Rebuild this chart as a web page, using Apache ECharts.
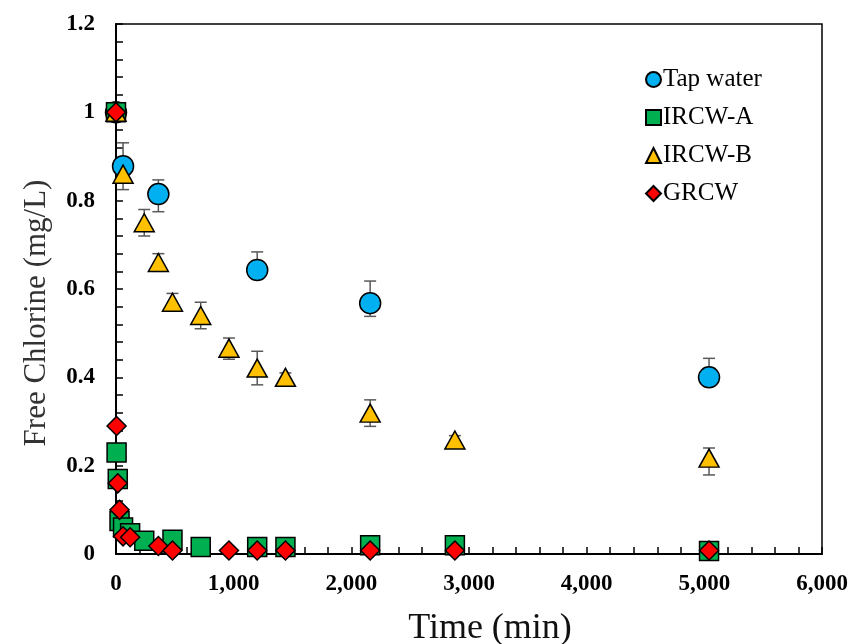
<!DOCTYPE html>
<html>
<head>
<meta charset="utf-8">
<script src="https://cdn.jsdelivr.net/npm/echarts@6/dist/echarts.min.js"></script>
<style>
  html, body { margin: 0; padding: 0; background: #fff; }
  #chart { width: 849px; height: 644px; }
</style>
</head>
<body>
<div id="chart"></div>
<script>
// time (min) and free chlorine (mg/L)
const tapTimes = [0, 60, 360, 1200, 2160, 5040];
const tapValues = [1.0, 0.878, 0.815, 0.643, 0.568, 0.40];
const tapErrUp = [0, 0.053, 0.032, 0.041, 0.05, 0.043];
const tapErrDown = [0, 0.053, 0.04, 0.02, 0.03, 0.02];

const aTimes = [0, 5, 15, 30, 60, 120, 240, 480, 720, 1200, 1440, 2160, 2880, 5040];
const aValues = [1.0, 0.23, 0.17, 0.075, 0.06, 0.047, 0.03, 0.032, 0.016, 0.016, 0.016, 0.02, 0.02, 0.007];

const bTimes = [0, 60, 240, 360, 480, 720, 960, 1200, 1440, 2160, 2880, 5040];
const bValues = [1.0, 0.86, 0.75, 0.66, 0.57, 0.54, 0.466, 0.421, 0.40, 0.319, 0.258, 0.217];
const bErrUp = [0, 0.02, 0.03, 0.02, 0.02, 0.03, 0.023, 0.038, 0.01, 0.03, 0.01, 0.023];
const bErrDown = [0, 0.02, 0.03, 0.02, 0.02, 0.03, 0.025, 0.038, 0.01, 0.03, 0.01, 0.038];

const gTimes = [0, 5, 15, 30, 60, 120, 360, 480, 960, 1200, 1440, 2160, 2880, 5040];
const gValues = [1.0, 0.29, 0.16, 0.10, 0.04, 0.038, 0.018, 0.008, 0.008, 0.008, 0.008, 0.008, 0.008, 0.008];

const serif = '"Liberation Serif", "Times New Roman", serif';

function pairs(times, values) {
  return times.map((t, i) => [t, values[i]]);
}
function errRows(times, values, up, down) {
  return times.map((t, i) => [t, values[i] - down[i], values[i] + up[i]]);
}

function renderErr(params, api) {
  const x = api.value(0);
  const lo = api.coord([x, api.value(1)]);
  const hi = api.coord([x, api.value(2)]);
  const cap = 6;
  const style = { stroke: '#595959', lineWidth: 1.5 };
  return {
    type: 'group',
    children: [
      { type: 'line', shape: { x1: lo[0], y1: lo[1], x2: hi[0], y2: hi[1] }, style },
      { type: 'line', shape: { x1: hi[0] - cap, y1: hi[1], x2: hi[0] + cap, y2: hi[1] }, style },
      { type: 'line', shape: { x1: lo[0] - cap, y1: lo[1], x2: lo[0] + cap, y2: lo[1] }, style }
    ]
  };
}

const chart = echarts.init(document.getElementById('chart'));

const marker = (name, symbol, size, color, z) => ({
  name: name,
  type: 'scatter',
  symbol: symbol,
  symbolSize: size,
  z: z,
  itemStyle: { color: color, borderColor: '#000', borderWidth: 1.5, opacity: 1 },
  emphasis: { disabled: true }
});

chart.setOption({
  animation: false,
  grid: {
    left: 116, right: 27, top: 24, bottom: 90,
    outerBoundsMode: 'none',
    show: true, borderColor: '#000', borderWidth: 1.5
  },
  legend: {
    orient: 'vertical',
    left: 640,
    top: 62,
    itemGap: 13,
    itemWidth: 15,
    itemHeight: 15,
    data: ['Tap water', 'IRCW-A', 'IRCW-B', 'GRCW'],
    textStyle: { fontFamily: serif, fontSize: 25, color: '#000', padding: [0, 0, 0, -3] }
  },
  xAxis: {
    type: 'value',
    min: 0,
    max: 6000,
    interval: 1000,
    name: 'Time (min)',
    nameLocation: 'middle',
    nameGap: 57,
    nameTextStyle: { fontFamily: serif, fontSize: 36, color: '#111', padding: [0, 0, 0, 42] },
    axisLine: { lineStyle: { color: '#000', width: 2 } },
    axisTick: { inside: true, length: 7, lineStyle: { color: '#000', width: 1.5 } },
    minorTick: { show: true, splitNumber: 5, length: 7, lineStyle: { color: '#000', width: 1.5 } },
    splitLine: { show: false },
    axisLabel: {
      margin: 19,
      fontFamily: serif,
      fontWeight: 'bold',
      fontSize: 23,
      color: '#000',
      formatter: v => v.toLocaleString('en-US')
    }
  },
  yAxis: {
    type: 'value',
    min: 0,
    max: 1.2,
    interval: 0.2,
    name: 'Free Chlorine (mg/L)',
    nameLocation: 'middle',
    nameGap: 64,
    nameTextStyle: { fontFamily: serif, fontSize: 31, color: '#333', padding: [0, 48, 0, 0] },
    axisLine: { show: true, lineStyle: { color: '#000', width: 2 } },
    axisTick: { inside: true, length: 7, lineStyle: { color: '#000', width: 1.5 } },
    minorTick: { show: true, splitNumber: 5, length: 7, lineStyle: { color: '#000', width: 1.5 } },
    splitLine: { show: false },
    axisLabel: {
      margin: 21,
      fontFamily: serif,
      fontWeight: 'bold',
      fontSize: 23,
      color: '#000',
      formatter: v => String(parseFloat(v.toFixed(1)))
    }
  },
  series: [
    {
      type: 'custom',
      renderItem: renderErr,
      data: errRows(tapTimes, tapValues, tapErrUp, tapErrDown),
      z: 1,
      silent: true
    },
    {
      type: 'custom',
      renderItem: renderErr,
      data: errRows(bTimes, bValues, bErrUp, bErrDown),
      z: 1,
      silent: true
    },
    Object.assign(marker('Tap water', 'circle', 21, '#00B0F0', 2), { data: pairs(tapTimes, tapValues) }),
    Object.assign(marker('IRCW-A', 'rect', 19, '#00B050', 3), { data: pairs(aTimes, aValues) }),
    Object.assign(marker('IRCW-B', 'triangle', [20, 18], '#FFC000', 4), { data: pairs(bTimes, bValues) }),
    Object.assign(marker('GRCW', 'diamond', 19, '#FF0000', 5), { data: pairs(gTimes, gValues) })
  ]
});
</script>
</body>
</html>
